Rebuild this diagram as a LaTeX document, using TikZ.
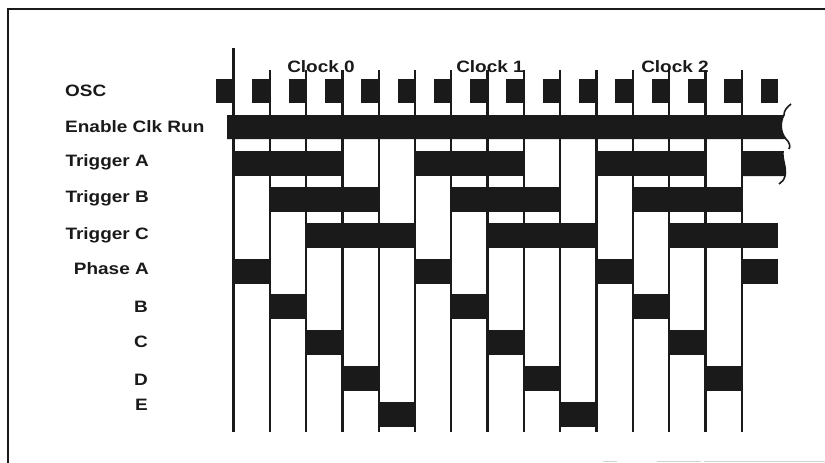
\documentclass[tikz,border=0pt]{standalone}
\usepackage{fontspec}
\setmainfont{Liberation Sans}
\newfontfamily\labelfont[FakeStretch=1.15]{Liberation Sans}
\definecolor{ink}{HTML}{1A1A1A}

\begin{document}
\begin{tikzpicture}[x=1pt,y=-1pt,
    every node/.style={font=\labelfont\bfseries\fontsize{16.5}{18}\selectfont,inner sep=0pt,text=ink},
    level/.style={fill=ink},
    tick/.style={draw=ink,line width=2.3pt},
    frame/.style={draw=ink,line width=2.6pt},
    breakline/.style={draw=ink,line width=1.6pt}]
  \useasboundingbox[fill=white] (0,0) rectangle (825,463);

  % frame
  \draw[frame] (8,463) -- (8,9) -- (825,9);
  \draw[gray!35,line width=1pt] (603,461) -- (617,461) (657,461) -- (701,461) (704,461) -- (825,461);

  % clock edges
  \draw[tick] (233.5,48) -- (233.5,432);
  \foreach \i in {1,...,14}
    \draw[tick] ({233.5+36.3*\i},70) -- ({233.5+36.3*\i},432);

  % OSC
  \foreach \i in {0,...,15}
    \fill[level] ({233.5+36.3*\i-17.5},79) rectangle ({233.5+36.3*\i},103);

  % enable clk run, broken at the right
  \fill[level] (227,115) -- (784,115) .. controls (780,122) and (780,132) .. (786,139) -- (227,139) -- cycle;

  % triggers and phases: row/from/to
  \foreach \r/\a/\b in {2/0/3,2/5/8,2/10/13,
      3/1/4,3/6/9,3/11/14,
      4/2/5,4/7/10,4/12/15,
      5/0/1,5/5/6,5/10/11,5/14/15,
      6/1/2,6/6/7,6/11/12,
      7/2/3,7/7/8,7/12/13,
      8/3/4,8/8/9,8/13/14,
      9/4/5,9/9/10}
    \fill[level] ({233.5+36.3*\a},{79+35.9*\r}) rectangle ({233.5+36.3*\b},{104+35.9*\r});
  \fill[level] (741.7,151) -- (783,151) .. controls (782,160) and (787,168) .. (785,176) -- (741.7,176) -- cycle;

  % break marks
  \draw[breakline] (791,104) .. controls (786,108) and (784,111) .. (784,115)
    .. controls (780,122) and (780,132) .. (786,139)
    .. controls (789,142) and (791,146) .. (789,149);
  \draw[breakline] (783,151) .. controls (782,160) and (787,168) .. (785,176)
    .. controls (784,180) and (782,182) .. (779,184);

  % labels
  \node[anchor=base] (clk0) at (321,72) {Clock 0};
  \node[anchor=base] (clk1) at (490,72) {Clock 1};
  \node[anchor=base] (clk2) at (675,72) {Clock 2};
  \node[anchor=base west] (osc) at (65,96) {OSC};
  \node[anchor=base west] (ena) at (65,132) {Enable Clk Run};
  \node[anchor=base east] (trga) at (149,166) {Trigger A};
  \node[anchor=base east] (trgb) at (149,202) {Trigger B};
  \node[anchor=base east] (trgc) at (149,239) {Trigger C};
  \node[anchor=base east] (pha) at (149,274) {Phase A};
  \node[anchor=base east] (phb) at (148,312) {B};
  \node[anchor=base east] (phc) at (148,347) {C};
  \node[anchor=base east] (phd) at (148,385) {D};
  \node[anchor=base east] (phe) at (148,410) {E};
\end{tikzpicture}
\end{document}
